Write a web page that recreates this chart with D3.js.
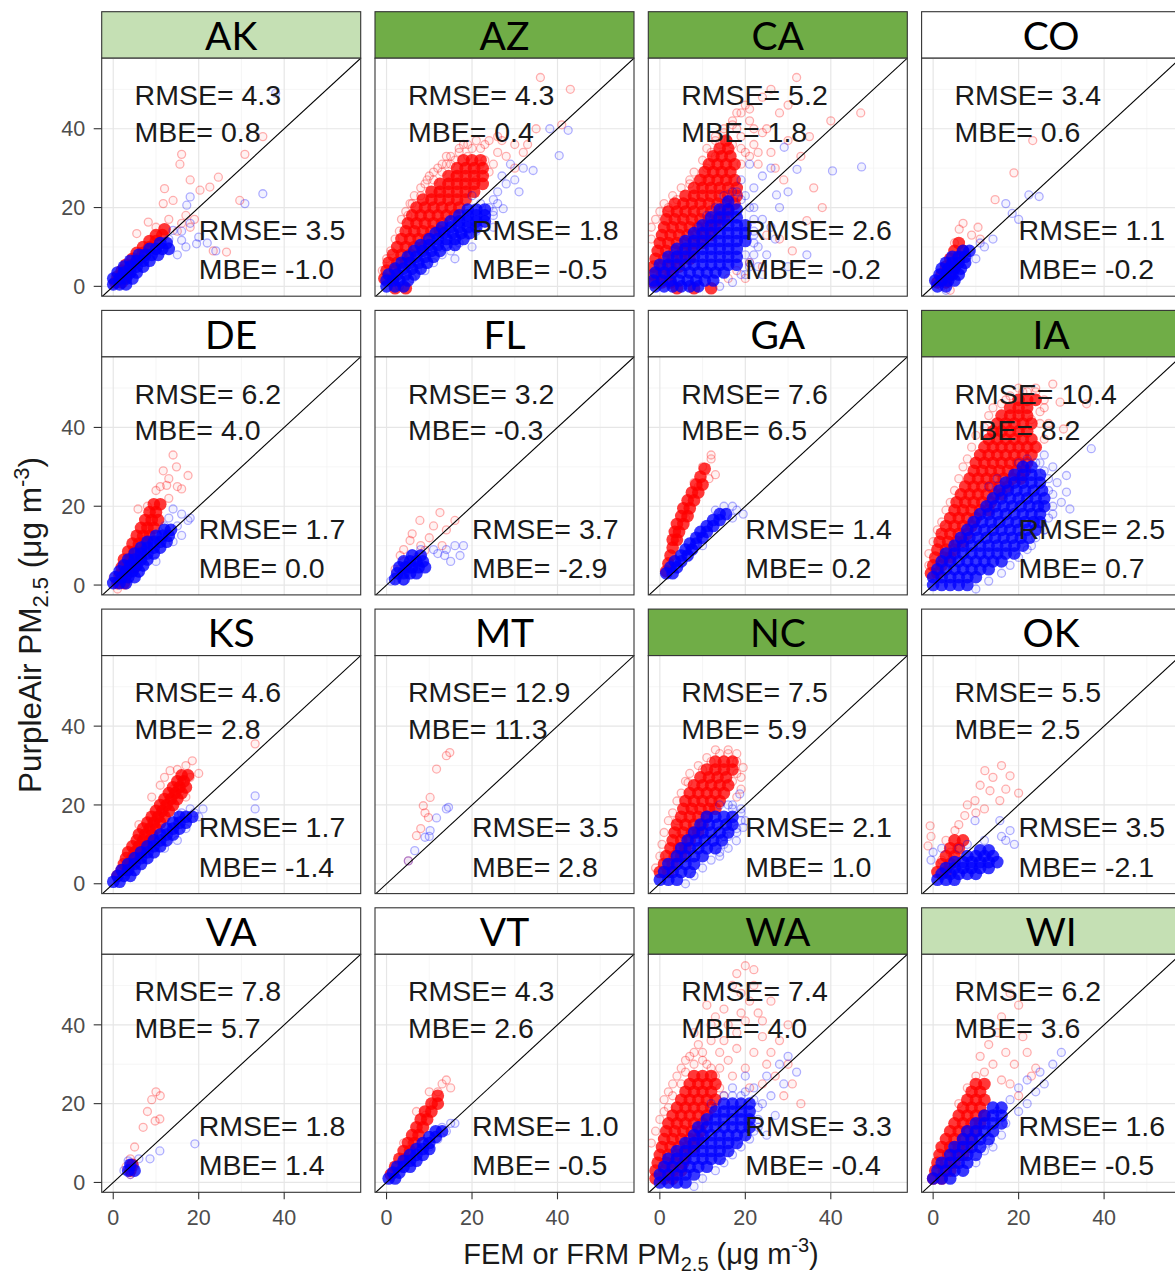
<!DOCTYPE html>
<html>
<head>
<meta charset="utf-8">
<script src="https://cdn.jsdelivr.net/npm/d3@7"></script>
<style>
  body { margin: 0; background: #fff; }
</style>
</head>
<body>
<svg id="chart"></svg>
<script>
// facet order, left to right, top to bottom
const states = ["AK","AZ","CA","CO","DE","FL","GA","IA","KS","MT","NC","OK","VA","VT","WA","WI"]
// 0 = plain strip, 1 = light green, 2 = dark green
const stripShade = [1,2,2,0, 0,0,0,2, 0,0,2,0, 0,0,2,1]

// statistics printed in each panel (raw = red, corrected = blue)
const rmseRaw = [4.3,4.3,5.2,3.4, 6.2,3.2,7.6,10.4, 4.6,12.9,7.5,5.5, 7.8,4.3,7.4,6.2]
const mbeRaw  = [0.8,0.4,1.8,0.6, 4.0,-0.3,6.5,8.2, 2.8,11.3,5.9,2.5, 5.7,2.6,4.0,3.6]
const rmseCor = [3.5,1.8,2.6,1.1, 1.7,3.7,1.4,2.5, 1.7,3.5,2.1,3.5, 1.8,1.0,3.3,1.6]
const mbeCor  = [-1.0,-0.5,-0.2,-0.2, 0.0,-2.9,0.2,0.7, -1.4,2.8,1.0,-2.1, 1.4,-0.5,-0.4,-0.5]

const xTicks = [0, 20, 40]
const yTicks = [0, 20, 40]

// dense parts of the clouds, written as rows  "y: x x x; y: x x ..."
const redDense = [
  "1:0.5 2; 2.5:1 3; 4:2 3.5; 5.5:3 4.5; 7:4.5 6; 8.5:5.5 7; 10:7 8.5; 11.5:8.5 10; 13:10 11.5; 14.5:12",
  "-0.5:2 4.5; 2:-0.5 1.5; 4:0 2; 6:0.5 2.5 4.5; 8:1.5 3.5 5.5; 10:2.5 4.5 6.5 8.5; 12:3.5 5.5 7.5 9.5; 14:4.5 6.5 8.5 10.5 12.5; 16:5 7 9 11 13; 18:6 8 10 12 14 16; 20:7 9 11 13 15 17; 22:8.5 10.5 12.5 14.5 16.5 18.5; 24:10.5 12.5 14.5 16.5 18.5 20.5; 26:12.5 14.5 16.5 18.5 20.5 22.5; 28:14.5 16.5 18.5 20.5 22.5; 30:16.5 18.5 20.5 22.5; 32:18 20 22",
  "-0.5:4 8 12; 1:-1.5 0.5 2.5; 3:-1.5 0.5 2.5; 5:-1.5 0.5 2.5 4.5; 7:-1 1 3 5 7; 9:-0.5 1.5 3.5 5.5 7.5; 11:0 2 4 6 8 10; 13:0.5 2.5 4.5 6.5 8.5 10.5 12; 15:1 3 5 7 9 11 13; 17:1.5 3.5 5.5 7.5 9.5 11.5 13.5 15; 19:2 4 6 8 10 12 14 16; 21:3.5 5.5 7.5 9.5 11.5 13.5 15.5 17.5; 23:6 8 10 12 14 16 18; 25:8 10 12 14 16 18; 27:9.5 11.5 13.5 15.5 17.5; 29:10.5 12.5 14.5 16.5; 31:11.5 13.5 15.5 17.5; 33:12.5 14.5 16.5; 35:14 16; 37:15.5",
  "1:1 3; 3:2 4; 5:3 5; 7:4 6; 9:5 7; 11:6",
  "0.5:1 2.5; 2.5:1.5 3; 4.5:2 3.5 5; 6.5:2.5 4 5.5; 8.5:3.5 5 6.5; 10.5:4.5 6 7.5; 12.5:5.5 7 8.5; 14.5:6.5 8 9.5; 16.5:7.5 9 10.5; 18.5:8.5 10; 20.5:9.5 11",
  "",
  "3.5:1.5; 5.5:2; 7.5:2.5; 9.5:3; 11.5:3 4; 13.5:3.5 4.5; 15.5:4 5.5; 17.5:5 6.5; 19.5:5.5 7; 21.5:6.5 8; 23.5:7.5 9; 25.5:8.5 10; 27.5:9.5; 29.5:10.5",
  "3:-0.5 1; 5:0 2; 7:0.5 2.5 4; 9:1 3 5; 11:1.5 3.5 5.5 7; 13:2 4 6 8; 15:3 5 7 9; 17:4 6 8 10; 19:5 7 9 11 13; 21:5.5 7.5 9.5 11.5 13.5; 23:6.5 8.5 10.5 12.5 14.5 16; 25:7.5 9.5 11.5 13.5 15.5 17.5; 27:8.5 10.5 12.5 14.5 16.5 18.5 20.5; 29:9.5 11.5 13.5 15.5 17.5 19.5 21.5; 31:10 12 14 16 18 20 22; 33:11 13 15 17 19 21 23; 35:12 14 16 18 20 22 24; 37:13 15 17 19 21 23; 39:14 16 18 20 22; 41:15 17 19 21 23; 43:16 18 20 22; 45:18 20 22; 47:20 22 24",
  "2:1; 3.5:2; 5:2.5 4; 6.5:3 4.5; 8:3.5 5 6.5; 9.5:4.5 6 7.5; 11:5.5 7 8.5; 12.5:6 7.5 9; 14:7 8.5 10; 15.5:8 9.5 11; 17:9 10.5 12; 18.5:10 11.5 13; 20:11 12.5 14; 21.5:12 13.5 15; 23:13 14.5 16; 24.5:14 15.5 17; 26:15 16.5; 27.5:16 17.5",
  "",
  "3:0 2; 5:1 3; 7:1.5 3.5 5; 9:2.5 4.5 6; 11:3 5 7; 13:3.5 5.5 7.5 9; 15:4 6 8 10; 17:5 7 9 11; 19:5.5 7.5 9.5 11.5 13; 21:6 8 10 12 14; 23:7 9 11 13 15; 25:8 10 12 14 16; 27:9.5 11.5 13.5 15.5; 29:11 13 15 17; 31:13 15 17",
  "3:1 3; 5:2 4; 7:3 5; 9:4 6; 11:5 7",
  "3:4; 4.5:4.5",
  "2:1; 4:2; 6:3 4.5; 8:4 5.5; 10:5 6.5; 12:6 7.5; 14:7 8.5; 16:8 9.5; 18:9 10.5; 20:10.5 12; 22:12",
  "1:-1 1 3; 3:-1 1 3 5; 5:-0.5 1.5 3.5 5.5; 7:0 2 4 6; 9:0.5 2.5 4.5 6.5 8; 11:1 3 5 7 9; 13:1.5 3.5 5.5 7.5 9.5; 15:2 4 6 8 10; 17:3 5 7 9 11; 19:4 6 8 10 12; 21:5 7 9 11 13; 23:6 8 10 12; 25:7 9 11 13; 27:8 10 12",
  "1:0 2; 3:0.5 2.5 4; 5:1 3 5; 7:1.5 3.5 5.5 7; 9:2 4 6 8; 11:3 5 7 9; 13:4 6 8 10; 15:5 7 9 11; 17:6 8 10 12; 19:7 9 11; 21:8 10 12; 23:9 11; 25:10 12"
]

const blueDense = [
  "0.5:0 1.5 3; 2:0 1.5 3 4.5; 3.5:1 2.5 4 5.5; 5:2.5 4 5.5 7; 6.5:4 5.5 7 8.5; 8:6 7.5 9 10.5; 9.5:8.5 10 11.5 13; 11:11 12.5",
  "0:0 2 4; 1.5:0 1.5 3 5; 3:0.5 2.5 4.5 6.5; 4.5:2 4 6 8; 6:3.5 5.5 7.5 9.5; 7.5:5 7 9 11; 9:6.5 8.5 10.5 12.5; 10.5:8 10 12 14 16; 12:10 12 14 16 18; 13.5:11.5 13.5 15.5 17.5 19.5; 15:13 15 17 19 21; 16.5:15 17 19 21 23; 18:17 19 21 23; 19.5:19 21 23",
  "0:-1 1 3 5 7 9; 1.5:-1.5 0.5 2.5 4.5 6.5 8.5 10.5 12.5; 3.5:-1 1 3 5 7 9 11 13 15; 5.5:0 2 4 6 8 10 12 14 16 18; 7.5:2 4 6 8 10 12 14 16 18; 9.5:4 6 8 10 12 14 16 18; 11.5:6 8 10 12 14 16 18 20; 13.5:8 10 12 14 16 18 20; 15.5:10 12 14 16 18 20; 17.5:12 14 16 18; 19.5:14 16 18; 21.5:16",
  "0:1 3; 1.5:0.5 2 3.5 5; 3:1.5 3 4.5 6; 4.5:2 3.5 5 6.5; 6:3 4.5 6 7.5; 7.5:4.5 6 7.5; 9:7 8.5",
  "0.5:0 1.5 3; 2:0.5 2 3.5 5; 3.5:1.5 3 4.5 6; 5:2.5 4 5.5 7; 6.5:3.5 5 6.5 8; 8:5 6.5 8 9.5; 9.5:6.5 8 9.5 11; 11:8 9.5 11 12.5; 12.5:10 11.5 13; 14:12 13.5",
  "1.5:2 4; 3:2.5 4 5.5 7; 4.5:3 4.5 6 7.5 9; 6:4 5.5 7 8.5; 7.5:6 8",
  "3:1.5 3; 4.5:2.5 4; 6:3.5 5; 7.5:5 6.5; 9:6 7.5; 10.5:7 8.5; 12:8.5 10; 13.5:9.5 11; 15:11 12.5; 16.5:12.5 14; 18:14 15.5",
  "0:0 2 4 6 8; 2:0 2 4 6 8 10; 4:1 3 5 7 9 11 13; 6:2 4 6 8 10 12 14 16; 8:3 5 7 9 11 13 15 17 19; 10:5 7 9 11 13 15 17 19 21; 12:6.5 8.5 10.5 12.5 14.5 16.5 18.5 20.5 22.5; 14:8 10 12 14 16 18 20 22 24; 16:9.5 11.5 13.5 15.5 17.5 19.5 21.5 23.5 25; 18:11 13 15 17 19 21 23 25; 20:12.5 14.5 16.5 18.5 20.5 22.5 24.5 26; 22:14 16 18 20 22 24 26; 24:15.5 17.5 19.5 21.5 23.5 25.5; 26:17 19 21 23 25; 28:19 21 23 25; 30:21 23",
  "0.5:0 1.5; 2:1 2.5 4; 3.5:2 3.5 5; 5:3.5 5 6.5; 6.5:5 6.5 8; 8:6.5 8 9.5; 9.5:8 9.5 11; 11:9.5 11 12.5; 12.5:11 12.5 14; 14:12.5 14 15.5; 15.5:14 15.5 17; 17:15.5 17 18.5",
  "",
  "1:0 2 4; 3:1 3 5 7; 5:2 4 6 8; 7:4 6 8 10; 9:5 7 9 11 13; 11:6.5 8.5 10.5 12.5 14.5; 13:8 10 12 14 16; 15:9.5 11.5 13.5 15.5 17; 17:11 13 15 17",
  "1:1 3 5; 2.5:2 4 6 8 10; 4:3 5 7 9 11 13; 5.5:5 7 9 11 13 15; 7:8 10 12 14; 8.5:11 13",
  "3:3.5 5; 4.5:4",
  "1:0.5 2; 2.5:1.5 3; 4:2.5 4 5.5; 5.5:4 5.5 7; 7:5.5 7 8.5; 8.5:7 8.5 10; 10:8.5 10; 11.5:10 11.5; 13:11.5 13",
  "0:0 2 4 6; 2:0 2 4 6 8; 4:1 3 5 7 9 11; 6:2 4 6 8 10 12 14; 8:4 6 8 10 12 14 16; 10:6 8 10 12 14 16 18; 12:8 10 12 14 16 18 20; 14:9 11 13 15 17 19 21; 16:11 13 15 17 19 21; 18:13 15 17 19 21; 20:15 17 19 21",
  "1:0 2 4; 3:1 3 5 7; 5:2 4 6 8; 7:4 6 8 10; 9:5 7 9 11; 11:7 9 11 13; 13:8 10 12 14; 15:10 12 14 16; 17:12 14 16; 19:14 16"
]

// single scattered observations, "x,y x,y ..."
const redSparse = [
  "16,33.5 15.6,31 30.8,33.5 35,38 12,24.8 18,27 20.3,24.4 24.6,27.7 22.6,25.2 11.7,21 14,21.8 29.6,21.8 8.2,16.3 5.5,13.4 23.4,9 26.5,8.7 17,18 16,16 19,17 13,17 10,15 15,14 18,15",
  "43,50 41,41 36,53 27,37 24,37 22,35 19,33 17,34 15,31 13,29 11,27 9,26 12,24 16,28 20,30 23,32 26,34 18,26 21,27 24,29 28,33 30,36 8,23 6,21 5,18 30,30 32,34 33,36 10,28 14,33 35,40 25,31 20,35 23,36 26,38 18,36 16,32 12,30 14,31 22,31 -1,4 0,7 1,9 2,12 3,14 3.5,17 4.5,19 5.5,21 6.5,23 8,25 9.5,27 11,29 13,31 15,33 17,35 19,36 21,37",
  "32,53 40,42 47,44 34.4,16.7 20,46 18,40 16,37 22,36 24,39 14,36 12,34 26,34 25,40 28,44 30,46 21,42 19,31 23,31 27,30 29,27 13,38 17,42 9,27 7,26 4,22 2,20 26,50 24,48 30,37 35,38 33,33 36,25 38,20 28,12 31,9 25,13 18,4 21,6 24,5 16,2 20,2 18,44 15,40 19,38 22,40 17,36 20,34 23,34 11,30 13,33 -2,12 -2,15 -1,17 0,19 1,21 3,23 5,25 7,27 8,29 10,32 11,35 13,37 15,39 17,41 19,44 21,45 19,35 21,33",
  "14.5,22 18.9,28.8 6.1,14.5 10.5,15 23.3,37 9,13 7,16 5,11 11,12 2,0 4,-1",
  "14,33 14.8,30 11.7,29 17.5,27.8 16,24.4 5.8,19.3 12.5,25.3 13,27 15,25 11,25 10,24 13,22 8,20 0,2 1,-1 3,0",
  "7.8,16.4 12.5,18.4 16,16.4 5.5,11.3 9,8.8 3.2,7.5 6,13 8,10 10,12 4,9 11,15 14,14 13,10 2,4 5,5 7,7 3,4 4,6",
  "12,32 10,30 9,25 13,28 6,17 8,26 11.5,27 4,12 12,33",
  "28,51 29.7,46.4 35.9,46 30.5,39.6 26,47 24,49 25,44 27,41 26,37 24,35 22,49 20,50 17,47 23,42 -1,5 -1,8 0,11 1,14 2,16 3,19 4,21 5,24 6,27 7,30 8,32 9,35 10,38 12,40 13,43 14,45 16,46 18,48 21,49 24,50 26,45 25,41",
  "18.5,31.2 13.3,28.7 33.2,35.5 17,30 16,26 15,29 14,24 18,27 12,27 11,25 9,22 20,28 6,15 17,22",
  "14.8,33.3 14,32.5 11.7,29.1 10.2,21.9 8.6,19.8 9.8,16.8 7,12.2 5.1,5.8 9,18 8,14",
  "6.6,25.7 19.5,29.5 18,33 7,19.4 16,33 14,33 17,31 19,27 18,22 12,31 10,29 4,16 3,13 19,24 -1,4 0,7 0.5,10 1,13 2,16 3,18 4,21 5,23 6,26 7,28 9,30 11,32 13,34 16,34 18,31 18,28 17,26",
  "12.1,28.7 13.3,23.6 9.8,21.1 15.6,21.1 7.4,17.3 5.1,13.5 18,27.4 -0.7,14.7 -1.2,9.6 11,25 14,27 8,20 6,15 10,18 12,19 17,24 20,23 3,11 4,8 -0.5,12 2,6 16,30",
  "9.8,15.6 10.9,16.1 9,21 10,23 11,22 8,18 7,14 5,9 4,6 3,4 4,2",
  "13,25 14,26 12,23 10,23 7,18 9,17 4,10 11,20 15,24",
  "20,55 22,54 18,53 17,50 19,48 21,46 15,44 13,42 16,40 18,38 20,41 23,43 24,37 12,36 10,33 14,33 16,31 18,34 22,33 26,33 25,30 20,29 17,27 14,29 11,30 8,30 6,28 5,25 3,22 2,19 15,36 12,40 28,36 30,40 30,30 27,27 24,25 21,24 9,35 7,32 31,25 33,20 29,22 22,50 26,46 19,43 11,45 8,38 24,41 -2,10 -1,13 0,16 1,18 1,21 2,23 3,25 4,27 5,29 6,31 8,33 10,31 12,29 13,27 14,24 15,22",
  "20,45 18,48 16,42 15,38 13,35 17,33 19,30 14,30 12,28 10,27 21,37 22,33 8,24 16,26 18,25 23,27 24,29 11,32 20,22 6,20"
]

const blueSparse = [
  "35,23.5 18,22.7 17.2,20.6 30.8,21 16,11.7 19.5,10.8 14,14.2 38,49 15,8 17,10 20,12.5 22,11 24,9 13,12 16,14 18,16",
  "40.4,33.2 42.5,39.6 38.2,40 34.3,29.4 27.3,19.7 25,22 26,24 28,26 30,27 24,20 22,21 27,28 29,31 32,30 20,23 25,18 23,16 21,14 31,24 3,0 6,2 9,4 11,6 13,8 15,9 17,11 19,13 21,15 23,17 25,19 26,21 25,15 20,10 16,7",
  "47.2,30.3 40.4,29.3 32.1,29.7 29.1,35.3 27.3,23.2 34.4,8 22,25 24,28 26,30 20,23 18,24 22,20 24,17 26,15 23,10 25,8 21,6 28,20 30,24 19,27 16,22 21,31 27,12 30,5 24,3 22,13 20,8 23,5 19,3 14,0 17,1 20,3 21,5 22,8 22,11 22,14 22,17 21,20 19,22 17,24 15,23 13,20 11,18 9,15",
  "22.4,23.2 24.8,22.8 18.5,18.5 20,17 11,11 12,10 10,7 14,12 17,21 3,-1",
  "14,19.3 17.5,16.4 16,12.6 16,18 15,15 13,17 12,15 18,17 14,11 10,6 6,3",
  "16,10 17.2,7.5 13.6,7.5 12,8 14,9 11,9 6,8 8,9 18,10 15,6 4,1 1,1",
  "17,20 18,19 19.5,18 15,20 13,19 17,17 10,10 8,9",
  "37,34.6 31.2,27.8 31.2,23.6 32,19.3 26,33 28,30 29,26 27,24 25,31 30,21 22,32 20,31 28,18 26,14 23,10 10,-1 13,1 16,3 18,5 20,7 22,9 24,12 26,14 27,17 28,20 28,23 27,27 26,29 24,31 22,31 13,25 15,27",
  "33.2,22.3 33.2,19 19,18 20,17 18,19 16,18 21,19 17,14 15,11 12,9",
  "14.5,19.4 11.7,16.7 10.2,13.5 9,11.8 6.6,8.4 5.1,5.8 14,19 10,12",
  "19.5,14.3 17.9,10.9 18.7,22.8 17,19 16,20 19,18 20,16 16,9 14,7 18,13 15,12 6,0 8,2 10,4 12,6 14,8 15,10 16,12 18,14 19,16 19,19 17,20 14,20",
  "18,13.5 9.8,16 15.6,16 17,11 19,10 16,12 12,11 8,10 6,9 -0.5,6 0,8 2,9",
  "19.1,9.8 10.9,8 8.6,6 3.9,4.7 4,3 3.5,5.5 5,4 2.5,3 4,2 6,6",
  "13,14 14,13 15,15 12,11 16,15 10,9",
  "22,24 25,27 28,30 30,32 24,20 26,22 21,16 23,14 25,12 19,22 17,24 27,17 29,25 32,28 20,27 15,22 12,20 8,-1 10,1 13,3 15,5 17,7 19,9 21,11 22,13 23,16 23,19 22,21 20,23 17,22 13,19",
  "20,24 22,26 25,28 28,30 30,33 24,23 18,21 20,18 16,12 14,9 13,10 17,15 15,18 22,20 26,25 12,8 10,5"
]

// parsers for the two point formats
function parseRows(s) {
  const out = []
  s.split(";").forEach(r => {
    if (!r.trim()) return
    const [yv, xs] = r.split(":")
    xs.trim().split(/\s+/).forEach(xv => out.push([+xv, +yv]))
  })
  return out
}
function parsePairs(s) {
  return s.trim().split(/\s+/).filter(d => d).map(p => p.split(",").map(Number))
}

// layout
const width = 1175, height = 1279
const left0 = 101.7, colStep = 273.3, panelW = 259
const top0 = 11.7, rowStep = 298.7, stripH = 46.5, plotH = 238
const stripFill = ["#ffffff", "#c5e0b4", "#70ad47"]
const red = "#ff0000", blue = "#0000ff"

const xScale = d3.scaleLinear().domain([-2.7, 57.9]).range([0, panelW])
const yScale = d3.scaleLinear().domain([-2.5, 57.9]).range([plotH, 0])

const svg = d3.select("#chart").attr("width", width).attr("height", height)
  .style("font-family", "'Liberation Sans', Arial, sans-serif")

svg.append("defs").append("clipPath").attr("id", "clip")
  .append("rect").attr("width", panelW).attr("height", plotH)

states.forEach((st, i) => {
  const c = i % 4, r = Math.floor(i / 4)
  const g = svg.append("g")
    .attr("transform", `translate(${left0 + c * colStep},${top0 + r * rowStep + stripH})`)

  // strip
  g.append("rect").attr("y", -stripH).attr("width", panelW).attr("height", stripH)
    .attr("fill", stripFill[stripShade[i]]).attr("stroke", "#333").attr("stroke-width", 1.1)
  g.append("text").attr("x", panelW / 2).attr("y", -8.3)
    .attr("text-anchor", "middle").attr("font-family", "Lato, 'Open Sans', sans-serif")
    .attr("font-size", 39).attr("fill", "#000").text(st)

  // grid
  g.append("rect").attr("width", panelW).attr("height", plotH).attr("fill", "#fff")
  const minor = [10, 30, 50]
  g.selectAll(".gxm").data(minor).enter().append("line")
    .attr("x1", d => xScale(d)).attr("x2", d => xScale(d)).attr("y1", 0).attr("y2", plotH)
    .attr("stroke", "#f2f2f2").attr("stroke-width", 0.7)
  g.selectAll(".gym").data(minor).enter().append("line")
    .attr("y1", d => yScale(d)).attr("y2", d => yScale(d)).attr("x1", 0).attr("x2", panelW)
    .attr("stroke", "#f2f2f2").attr("stroke-width", 0.7)
  g.selectAll(".gx").data(xTicks).enter().append("line")
    .attr("x1", d => xScale(d)).attr("x2", d => xScale(d)).attr("y1", 0).attr("y2", plotH)
    .attr("stroke", "#e6e6e6").attr("stroke-width", 1.2)
  g.selectAll(".gy").data(yTicks).enter().append("line")
    .attr("y1", d => yScale(d)).attr("y2", d => yScale(d)).attr("x1", 0).attr("x2", panelW)
    .attr("stroke", "#e6e6e6").attr("stroke-width", 1.2)

  const pts = g.append("g").attr("clip-path", "url(#clip)")

  // dense cores: filled discs that merge into a solid cloud
  function dense(list, col) {
    pts.append("g").selectAll("circle").data(parseRows(list)).enter().append("circle")
      .attr("cx", d => xScale(d[0])).attr("cy", d => yScale(d[1])).attr("r", 6.3)
      .attr("fill", col).attr("fill-opacity", 0.78)
  }
  // scattered points: faint open circles
  function sparse(list, col) {
    pts.append("g").selectAll("circle").data(parsePairs(list)).enter().append("circle")
      .attr("cx", d => xScale(d[0])).attr("cy", d => yScale(d[1])).attr("r", 4)
      .attr("fill", col).attr("fill-opacity", 0.05)
      .attr("stroke", col).attr("stroke-opacity", 0.3).attr("stroke-width", 1.3)
  }
  sparse(redSparse[i], red)
  dense(redDense[i], red)
  sparse(blueSparse[i], blue)
  dense(blueDense[i], blue)

  // 1:1 line
  pts.append("line")
    .attr("x1", xScale(-2.7)).attr("y1", yScale(-2.7))
    .attr("x2", xScale(57.9)).attr("y2", yScale(57.9))
    .attr("stroke", "#000").attr("stroke-width", 1.1)

  // border
  g.append("rect").attr("width", panelW).attr("height", plotH)
    .attr("fill", "none").attr("stroke", "#333").attr("stroke-width", 1.1)

  // statistics
  const stat = (xv, yv, txt) => g.append("text")
    .attr("x", xScale(xv)).attr("y", yScale(yv))
    .attr("font-size", 28.5).attr("fill", "#1a1a1a").text(txt)
  stat(5, 46, "RMSE= " + rmseRaw[i].toFixed(1))
  stat(5, 36.7, "MBE= " + mbeRaw[i].toFixed(1))
  stat(20, 11.8, "RMSE= " + rmseCor[i].toFixed(1))
  stat(20, 1.8, "MBE= " + mbeCor[i].toFixed(1))

  // axes on outer panels only
  if (c === 0) {
    yTicks.forEach(t => {
      g.append("line").attr("x1", -8).attr("x2", 0).attr("y1", yScale(t)).attr("y2", yScale(t))
        .attr("stroke", "#333").attr("stroke-width", 1.1)
      g.append("text").attr("x", -16.5).attr("y", yScale(t)).attr("dy", "0.36em")
        .attr("text-anchor", "end").attr("font-size", 21.5).attr("fill", "#4d4d4d").text(t)
    })
  }
  if (r === 3) {
    xTicks.forEach(t => {
      g.append("line").attr("y1", plotH).attr("y2", plotH + 7).attr("x1", xScale(t)).attr("x2", xScale(t))
        .attr("stroke", "#333").attr("stroke-width", 1.1)
      g.append("text").attr("x", xScale(t)).attr("y", plotH + 33)
        .attr("text-anchor", "middle").attr("font-size", 21.5).attr("fill", "#4d4d4d").text(t)
    })
  }
})

// axis titles
const xt = svg.append("text").attr("x", 641).attr("y", 1264).attr("text-anchor", "middle")
  .attr("font-size", 29).attr("fill", "#1a1a1a")
xt.append("tspan").text("FEM or FRM PM")
xt.append("tspan").attr("font-size", 20).attr("dy", 7).text("2.5")
xt.append("tspan").attr("dy", -7).text(" (\u03bcg m")
xt.append("tspan").attr("font-size", 20).attr("dy", -12).text("-3")
xt.append("tspan").attr("dy", 12).text(")")

const yt = svg.append("text").attr("transform", "translate(41,625) rotate(-90)")
  .attr("text-anchor", "middle").attr("font-size", 31.5).attr("fill", "#1a1a1a")
yt.append("tspan").text("PurpleAir PM")
yt.append("tspan").attr("font-size", 22).attr("dy", 7).text("2.5")
yt.append("tspan").attr("dy", -7).text(" (\u03bcg m")
yt.append("tspan").attr("font-size", 22).attr("dy", -12).text("-3")
yt.append("tspan").attr("dy", 12).text(")")
</script>
</body>
</html>
